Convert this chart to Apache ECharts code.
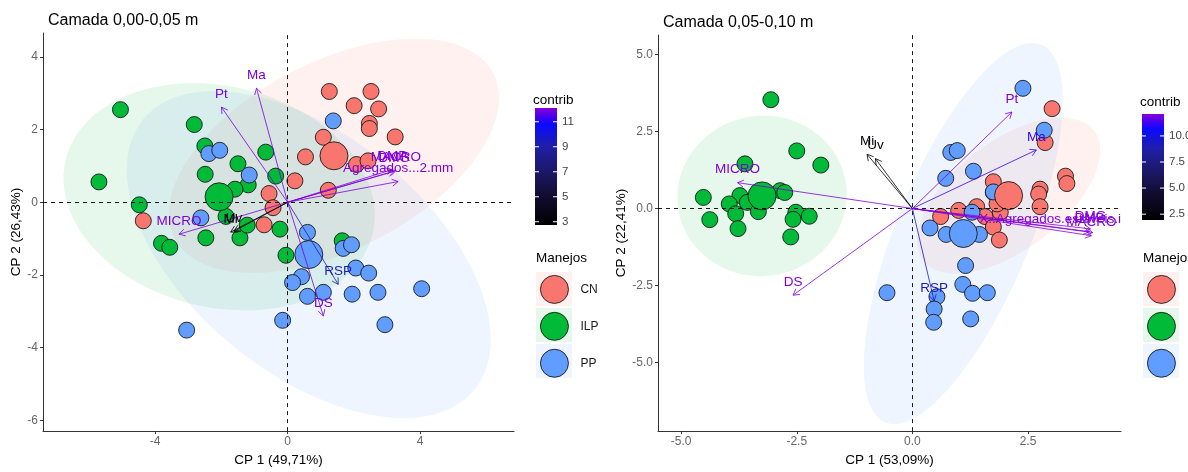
<!DOCTYPE html>
<html><head><meta charset="utf-8">
<script src="https://cdn.jsdelivr.net/npm/echarts@6/dist/echarts.min.js"></script>
<style>html,body{margin:0;padding:0;background:#fff}#c{width:1188px;height:472px}</style>
</head><body><div id="c"></div>
<script>
// ================= DATA =================
const groups = ['CN', 'ILP', 'PP'];

// ---- Camada 0,00-0,05 m (left panel) ----
const A_title = 'Camada 0,00-0,05 m';
const A_xName = 'CP 1 (49,71%)';
const A_yName = 'CP 2 (26,43%)';
const A_xRange = [-7.39, 6.84];
const A_yRange = [-6.3, 4.66];
const A_xTicks = [-4, 0, 4];
const A_yTicks = [-6, -4, -2, 0, 2, 4];
const A_CN = [[1.26,3.05],[2.52,3.05],[2.01,2.66],[2.75,2.57],[2.47,2.17],[2.47,2.03],[3.25,1.80],[1.08,1.79],[0.54,1.25],[2.08,1.04],[2.43,1.14],[0.22,0.59],[1.23,0.33],[-0.56,0.24],[-0.44,-0.15],[-0.71,-0.62],[-4.36,-0.51]];
const A_ILP = [[-5.05,2.55],[-5.70,0.56],[-4.48,-0.07],[-2.82,2.14],[-2.50,1.55],[-1.50,1.06],[-0.66,1.38],[-2.49,0.77],[-0.36,0.72],[-1.19,0.48],[-1.59,0.36],[-1.86,-0.39],[-2.47,-0.98],[-3.81,-1.13],[-3.56,-1.24],[-1.44,-0.98],[-1.22,-0.63],[-0.23,-0.74],[-0.05,-1.46],[1.65,-1.06]];
const A_PP = [[1.38,2.24],[-2.38,1.34],[-2.05,1.43],[-1.16,0.75],[-2.62,-0.43],[0.60,-0.83],[1.68,-1.27],[1.93,-1.17],[2.06,-1.81],[2.45,-1.95],[0.42,-2.05],[0.15,-2.21],[1.08,-2.48],[0.60,-2.59],[1.95,-2.53],[2.73,-2.48],[4.05,-2.38],[-0.15,-3.25],[2.94,-3.37],[-3.05,-3.52]];
const A_centroids = [[1.40,1.28],[-2.07,0.15],[0.64,-1.44]];            // CN, ILP, PP
// ellipse: centre x, centre y, semi-axis vector u (x,y), semi-axis vector v (x,y)
const A_ellipses = [[1.40,1.28,4.80,2.29,1.35,-2.27],[-2.07,0.15,4.63,-1.04,-0.82,-2.95],[0.64,-1.44,4.98,-3.75,-2.33,-2.49]];
const A_varLabels = ['Ma','Pt','MICRO','Mi','Uv','DS','RSP','MACRO','DMG','DMP','Agregados...2.mm'];
const A_varX = [-0.94,-2.00,-3.28,-1.72,-1.62,1.08,1.53,3.27,3.22,3.16,3.34];
const A_varY = [3.14,2.62,-0.88,-0.82,-0.80,-3.13,-2.26,0.87,0.85,0.90,0.57];
const A_contrib = [11.9,11.9,11.95,3.0,3.3,11.9,9.2,12.05,12.05,12.0,12.0];
const A_contribRange = [2.74, 12.1];
const A_contribTicks = [3, 5, 7, 9, 11];

// ---- Camada 0,05-0,10 m (right panel) ----
const B_title = 'Camada 0,05-0,10 m';
const B_xName = 'CP 1 (53,09%)';
const B_yName = 'CP 2 (22,41%)';
const B_xRange = [-5.5, 4.51];
const B_yRange = [-7.22, 5.63];
const B_xTicks = [-5, -2.5, 0, 2.5];
const B_yTicks = [-5, -2.5, 0, 2.5, 5];
const B_CN = [[3.02,3.24],[2.87,2.14],[3.31,1.05],[3.34,0.81],[1.75,0.87],[2.76,0.63],[2.73,0.47],[2.76,0.06],[1.75,0.52],[1.00,-0.06],[1.39,0.06],[0.61,-0.26],[1.57,-0.26],[1.75,-0.60],[1.90,-0.12],[1.88,-1.02],[1.83,0.15]];
const B_ILP = [[-3.06,3.53],[-2.50,1.87],[-1.98,1.41],[-3.62,1.45],[-4.52,0.36],[-3.73,0.42],[-3.96,0.15],[-3.57,0.20],[-3.82,-0.17],[-4.38,-0.36],[-3.77,-0.65],[-3.33,-0.10],[-2.86,0.58],[-2.76,0.52],[-2.52,-0.12],[-2.58,-0.35],[-2.23,-0.25],[-2.63,-0.92]];
const B_PP = [[2.39,3.90],[2.85,2.54],[0.83,1.82],[0.97,1.88],[1.32,1.21],[0.72,0.98],[1.75,0.54],[1.29,-0.12],[0.38,-0.63],[0.73,-0.84],[1.45,-0.84],[1.15,-1.85],[1.09,-2.46],[1.30,-2.75],[1.62,-2.73],[-0.55,-2.73],[0.53,-2.86],[0.47,-3.26],[0.46,-3.69],[1.26,-3.58]];
const B_centroids = [[2.08,0.42],[-3.25,0.41],[1.10,-0.81]];
const B_ellipses = [[2.08,0.42,1.84,2.12,0.73,-1.38],[-3.25,0.41,1.83,0.12,-0.05,2.60],[1.10,-0.81,1.68,6.13,1.34,-0.80]];
const B_varLabels = ['Ma','Pt','MICRO','Mi','Uv','DS','RSP','MACRO','DMG','DMP','X..Agregados.estáveis.i'];
const B_varX = [2.68,2.15,-3.78,-0.98,-0.80,-2.58,0.47,3.87,3.85,3.83,3.90];
const B_varY = [1.90,3.13,0.84,1.76,1.62,-2.81,-3.00,-0.88,-0.66,-0.75,-0.78];
const B_contrib = [11.1,12.0,12.0,2.2,2.4,11.95,9.3,12.05,12.05,12.05,12.0];
const B_contribRange = [1.94, 12.1];
const B_contribTicks = [2.5, 5, 7.5, 10];

// ================= STYLE =================
const FONT = "'Liberation Sans', Arial, sans-serif";
const groupColor = { CN: '#F8766D', ILP: '#00BA38', PP: '#619CFF' };
const groupFill = { CN: 'rgba(248,118,109,0.10)', ILP: 'rgba(0,186,56,0.10)', PP: 'rgba(97,156,255,0.10)' };
const legendBg = { CN: '#FEF1F0', ILP: '#E6F8EB', PP: '#EFF5FF' };
const gradStops = [[0,'#000000'],[0.25,'#120c30'],[0.46,'#1c1868'],[0.67,'#1f1fa8'],[0.86,'#0a0aff'],[0.93,'#4a00ec'],[1,'#8a00d8']];

function hexToRgb(h){ return [parseInt(h.substr(1,2),16),parseInt(h.substr(3,2),16),parseInt(h.substr(5,2),16)]; }
function colorAt(v, range){
  let f = (v - range[0]) / (range[1] - range[0]); f = Math.max(0, Math.min(1, f));
  for (let i = 1; i < gradStops.length; i++) {
    if (f <= gradStops[i][0]) {
      const a = gradStops[i-1], b = gradStops[i];
      const t = (f - a[0]) / (b[0] - a[0]);
      const ca = hexToRgb(a[1]), cb = hexToRgb(b[1]);
      return 'rgb(' + ca.map((c, k) => Math.round(c + (cb[k] - c) * t)).join(',') + ')';
    }
  }
  return gradStops[gradStops.length-1][1];
}
const measureCtx = document.createElement('canvas').getContext('2d');
function textWidth(s, size){ measureCtx.font = size + 'px ' + FONT; return measureCtx.measureText(s).width; }

// ================= SERIES BUILDERS =================
function ellipseSeries(gi, ells){
  return {
    type: 'custom', xAxisIndex: gi, yAxisIndex: gi, z: 1, silent: true, clip: true,
    data: ells.map((e, k) => e.concat([k])),
    encode: { x: 0, y: 1 },
    renderItem: function(params, api){
      const cx = api.value(0), cy = api.value(1), ux = api.value(2), uy = api.value(3), vx = api.value(4), vy = api.value(5);
      const g = groups[api.value(6)];
      const pts = [];
      for (let i = 0; i < 144; i++) {
        const t = i / 144 * Math.PI * 2;
        pts.push(api.coord([cx + ux * Math.cos(t) + vx * Math.sin(t), cy + uy * Math.cos(t) + vy * Math.sin(t)]));
      }
      return { type: 'polygon', shape: { points: pts }, style: { fill: groupFill[g], stroke: null } };
    }
  };
}
function pointSeries(gi, name, pts, size, z, withZeroLines){
  const s = {
    type: 'scatter', name: name, xAxisIndex: gi, yAxisIndex: gi, z: z,
    symbol: 'circle', symbolSize: size, data: pts,
    itemStyle: { color: groupColor[name], borderColor: '#1a1a1a', borderWidth: 0.9, opacity: 1 },
    emphasis: { disabled: true }
  };
  if (withZeroLines) {
    s.markLine = {
      silent: true, symbol: ['none', 'none'], animation: false, label: { show: false },
      lineStyle: { color: '#000', type: [4, 4], width: 0.9 },
      data: [{ xAxis: 0 }, { yAxis: 0 }]
    };
  }
  return s;
}
function arrowSeries(gi, xs, ys, contrib, labels, range){
  return {
    type: 'custom', xAxisIndex: gi, yAxisIndex: gi, z: 5, silent: true, clip: true,
    data: xs.map((x, i) => [x, ys[i], contrib[i], i]),
    encode: { x: 0, y: 1 },
    renderItem: function(params, api){
      const x = api.value(0), y = api.value(1), c = api.value(2), idx = api.value(3);
      const o = api.coord([0, 0]), p = api.coord([x, y]);
      const col = colorAt(c, range);
      const ang = Math.atan2(p[1] - o[1], p[0] - o[0]);
      const L = 7, A = Math.PI / 6;
      const h1 = [p[0] - L * Math.cos(ang - A), p[1] - L * Math.sin(ang - A)];
      const h2 = [p[0] - L * Math.cos(ang + A), p[1] - L * Math.sin(ang + A)];
      const name = labels[idx];
      const fs = 13.5;
      const w = textWidth(name, fs);
      const cs = params.coordSys;
      let lx = p[0];
      if (lx + w / 2 > cs.x + cs.width) lx = cs.x + cs.width - w / 2;
      return {
        type: 'group', children: [
          { type: 'line', shape: { x1: o[0], y1: o[1], x2: p[0], y2: p[1] }, style: { stroke: col, lineWidth: 0.8 } },
          { type: 'polyline', shape: { points: [h1, p, h2] }, style: { stroke: col, lineWidth: 0.8, fill: null } },
          { type: 'text', x: lx, y: p[1] - 13, style: { text: name, fill: col, fontSize: fs, fontFamily: FONT,
            align: 'center', verticalAlign: 'middle', textAlign: 'center', textVerticalAlign: 'middle' } }
        ]
      };
    }
  };
}
function axisPair(gi, xr, yr, xt, yt, xName, yName, fmt, yGap){
  const common = {
    type: 'value', gridIndex: gi, splitLine: { show: false },
    axisLine: { show: true, onZero: false, lineStyle: { color: '#333', width: 1 } },
    nameTextStyle: { color: '#000', fontSize: 13.5, fontFamily: FONT }
  };
  const x = Object.assign({}, common, {
    min: xr[0], max: xr[1], name: xName, nameLocation: 'middle', nameGap: 21,
    axisTick: { show: true, customValues: xt, length: 3, lineStyle: { color: '#333' } },
    axisLabel: { customValues: xt, formatter: fmt, color: '#666', fontSize: 12, fontFamily: FONT, margin: 5 }
  });
  const y = Object.assign({}, common, {
    min: yr[0], max: yr[1], name: yName, nameLocation: 'middle', nameGap: yGap, nameRotate: 90,
    axisTick: { show: true, customValues: yt, length: 3, lineStyle: { color: '#333' } },
    axisLabel: { customValues: yt, formatter: fmt, color: '#666', fontSize: 12, fontFamily: FONT, margin: 5 }
  });
  return [x, y];
}
function colorbarGraphics(x, y, w, h, range, ticks, fmt, titleX, titleY){
  const els = [];
  els.push({ type: 'text', left: titleX, top: titleY, style: { text: 'contrib', fill: '#000', fontSize: 13.5, fontFamily: FONT } });
  els.push({ type: 'rect', shape: { x: x, y: y, width: w, height: h },
    style: { fill: new echarts.graphic.LinearGradient(0, 1, 0, 0, gradStops.map(s => ({ offset: s[0], color: s[1] }))) } });
  ticks.forEach(t => {
    const ty = y + h - (t - range[0]) / (range[1] - range[0]) * h;
    els.push({ type: 'line', shape: { x1: x, y1: ty, x2: x + 4, y2: ty }, style: { stroke: '#fff', lineWidth: 1 } });
    els.push({ type: 'line', shape: { x1: x + w - 4, y1: ty, x2: x + w, y2: ty }, style: { stroke: '#fff', lineWidth: 1 } });
    els.push({ type: 'text', x: x + w + 5, y: ty, style: { text: fmt(t), fill: '#444', fontSize: 11.5, fontFamily: FONT, verticalAlign: 'middle', textVerticalAlign: 'middle' } });
  });
  return els;
}
function manejoGraphics(x, titleY, boxTop){
  const els = [{ type: 'text', left: x, top: titleY, style: { text: 'Manejos', fill: '#000', fontSize: 13.5, fontFamily: FONT } }];
  groups.forEach((g, i) => {
    els.push({ type: 'rect', z: -1, shape: { x: x, y: boxTop + i * 36, width: 36, height: 34 }, style: { fill: legendBg[g] } });
  });
  return els;
}

const fmtInt = v => String(v);
const fmt1 = v => Number(v).toFixed(1);
const axA = axisPair(0, A_xRange, A_yRange, A_xTicks, A_yTicks, A_xName, A_yName, fmtInt, 19);
const axB = axisPair(1, B_xRange, B_yRange, B_xTicks, B_yTicks, B_xName, B_yName, fmt1, 28);

const series = [
  ellipseSeries(0, A_ellipses),
  pointSeries(0, 'CN', A_CN, 16, 2, true),
  pointSeries(0, 'ILP', A_ILP, 16, 2, false),
  pointSeries(0, 'PP', A_PP, 16, 2, false),
  pointSeries(0, 'CN', [A_centroids[0]], 28, 3, false),
  pointSeries(0, 'ILP', [A_centroids[1]], 28, 3, false),
  pointSeries(0, 'PP', [A_centroids[2]], 28, 3, false),
  arrowSeries(0, A_varX, A_varY, A_contrib, A_varLabels, A_contribRange),
  ellipseSeries(1, B_ellipses),
  pointSeries(1, 'CN', B_CN, 16, 2, true),
  pointSeries(1, 'ILP', B_ILP, 16, 2, false),
  pointSeries(1, 'PP', B_PP, 16, 2, false),
  pointSeries(1, 'CN', [B_centroids[0]], 28, 3, false),
  pointSeries(1, 'ILP', [B_centroids[1]], 28, 3, false),
  pointSeries(1, 'PP', [B_centroids[2]], 28, 3, false),
  arrowSeries(1, B_varX, B_varY, B_contrib, B_varLabels, B_contribRange)
];

const legendCommon = {
  data: groups, orient: 'vertical', itemWidth: 28, itemHeight: 28, itemGap: 8, icon: 'circle', padding: 0,
  itemStyle: { borderColor: '#1a1a1a', borderWidth: 0.9 },
  selectedMode: false, textStyle: { fontSize: 12, color: '#1a1a1a', fontFamily: FONT, padding: [0, 0, 0, 7] }
};

const chart = echarts.init(document.getElementById('c'), null, { renderer: 'canvas' });
chart.setOption({
  animation: false,
  backgroundColor: '#fff',
  title: [
    { text: A_title, left: 43, top: 8, textStyle: { fontSize: 16, fontWeight: 'normal', color: '#000', fontFamily: FONT } },
    { text: B_title, left: 658, top: 10, textStyle: { fontSize: 16, fontWeight: 'normal', color: '#000', fontFamily: FONT } }
  ],
  grid: [
    { left: 43, top: 33, width: 471, height: 404 },
    { left: 658, top: 35, width: 463, height: 402 }
  ],
  xAxis: [axA[0], axB[0]],
  yAxis: [axA[1], axB[1]],
  legend: [
    Object.assign({}, legendCommon, { left: 540, top: 275 }),
    Object.assign({}, legendCommon, { left: 1147, top: 275 })
  ],
  graphic: [].concat(
    colorbarGraphics(535, 108, 22, 117, A_contribRange, A_contribTicks, fmtInt, 533, 93),
    colorbarGraphics(1142, 114, 22, 106, B_contribRange, B_contribTicks, fmt1, 1140, 95),
    manejoGraphics(536, 251, 272),
    manejoGraphics(1143, 251, 272)
  ),
  series: series
});
</script></body></html>
